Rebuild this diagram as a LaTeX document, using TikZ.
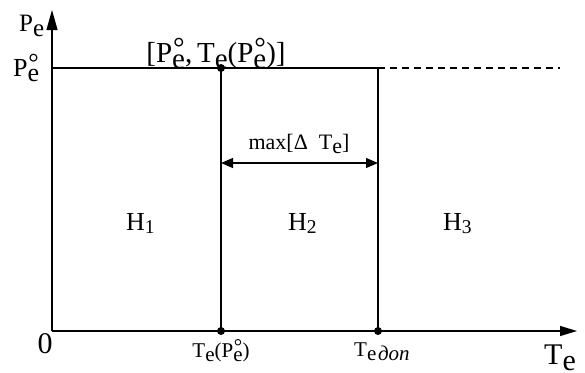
\documentclass[tikz,border=0pt]{standalone}
\usepackage{fontspec}
\setmainfont{Liberation Serif}
\usetikzlibrary{arrows.meta}
\newcommand\se{\raisebox{-0.22em}{e}}
\newcommand\Pz{P\rlap{\hspace{0.03em}\raisebox{0.16em}{°}}\se}
\newcommand\fs[1]{\fontsize{#1}{#1}\selectfont}
\newcommand\sbn[1]{\raisebox{-0.12em}{\scalebox{0.75}{#1}}}
\begin{document}
\begin{tikzpicture}[x=1pt,y=-1pt,
  lblw/.style={inner sep=0pt,anchor=base west},
  lblc/.style={inner sep=0pt,anchor=base},
  ln/.style={line width=1.2pt},
  dot/.style={circle,fill,inner sep=0pt,minimum size=8pt}]
\useasboundingbox (0,0) rectangle (585,372);
\coordinate (O) at (52,331);
\coordinate (XE) at (577,331);
\coordinate (YT) at (52,10);
\coordinate (A) at (52,68);
\coordinate (D) at (378,68);
\coordinate (F) at (560,68);
\coordinate (M1) at (221,163);
\coordinate (M2) at (378,163);
\node[dot] (B) at (221,68) {};
\node[dot] (C) at (221,331) {};
\node[dot] (E) at (378,331) {};
\draw[ln,-{Triangle[length=17pt,width=10pt]}] (O) -- (XE);
\draw[ln,-{Triangle[length=20pt,width=11pt]}] (O) -- (YT);
\draw[ln] (A) -- (D);
\draw[ln,dash pattern=on 7pt off 5pt] (D) -- (F);
\draw[ln] (B.center) -- (C.center);
\draw[ln] (D) -- (E.center);
\draw[ln,{Triangle[length=12pt,width=10pt]}-{Triangle[length=12pt,width=10pt]}] (M1) -- (M2);
\node[lblw] (pe) at (19,31) {\fs{25}P\se};
\node[lblw] (pz) at (13,76) {\fs{26}\Pz};
\node[lblc] (br) at (216,62) {\fs{29}[\Pz,\,T\se(\Pz)]};
\node[lblc] (mx) at (299,149) {\fs{22}max[Δ~~T\se]};
\node[lblw] (h1) at (126,230) {\fs{26}H\sbn{1}};
\node[lblw] (h2) at (288,230) {\fs{26}H\sbn{2}};
\node[lblw] (h3) at (443,230) {\fs{26}H\sbn{3}};
\node[lblc] (zero) at (45,353) {\fs{30}0};
\node[lblc] (tp) at (221,357) {\fs{21}T\se(\Pz)};
\node[lblw] (td) at (354,356) {\fs{21}T\raisebox{-0.22em}{e\kern0.08em\textit{доп}}};
\node[lblw] (te) at (544,364) {\fs{30}T\se};
\end{tikzpicture}
\end{document}
